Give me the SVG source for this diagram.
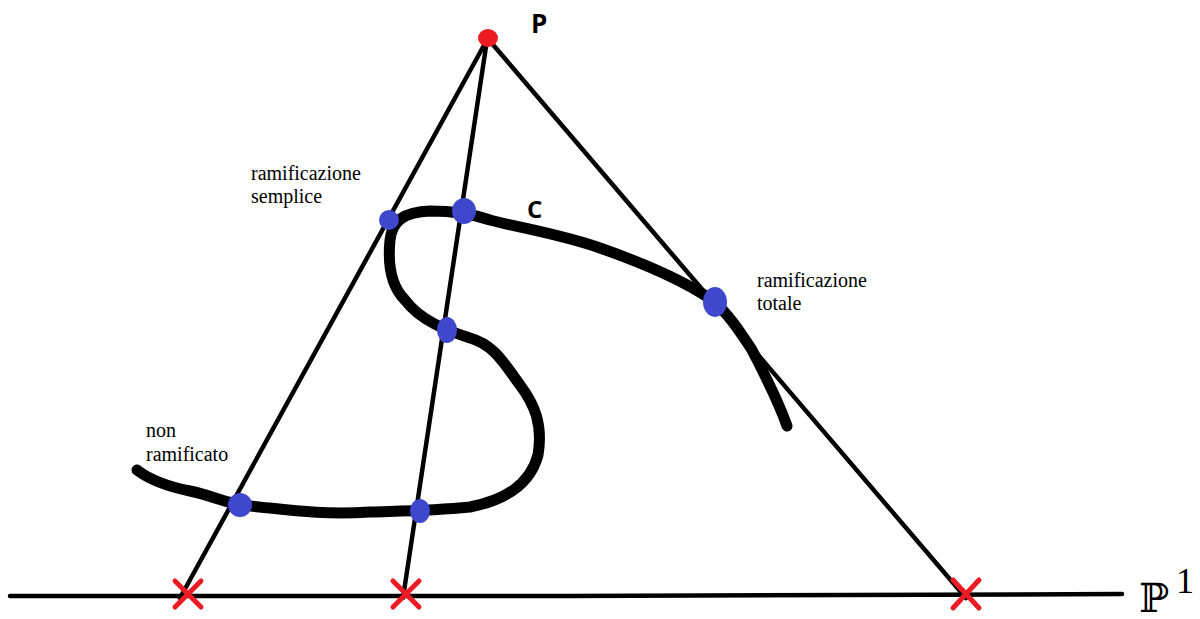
<svg xmlns="http://www.w3.org/2000/svg" width="1200" height="619" viewBox="0 0 1200 619">
<style>
.ln{stroke:#000;stroke-width:4.5;fill:none;stroke-linecap:round}
.cv{stroke:#000;stroke-width:11;fill:none;stroke-linecap:round;stroke-linejoin:round}
.dot{fill:#3f48cc}
.x{stroke:#ed1c24;stroke-width:5;stroke-linecap:round;fill:none}
.lbl{font-family:"Liberation Serif",serif;font-size:20px;fill:#000}
.bold{font-family:"Open Sans","Liberation Sans",sans-serif;font-weight:bold;fill:#000}
</style>
<rect width="1200" height="619" fill="#fff"/>
<g id="baseline">
<path class="ln" d="M10,596 L568,596 L1122,594" stroke-width="5"/>
</g>
<g id="connectors">
<path class="ln" d="M488,38 L180,598"/>
<path class="ln" d="M487,40 L403,598"/>
<path class="ln" d="M489,40 L966,598"/>
</g>
<g id="curve-C">
<path class="cv" d="M137,470 C150,480 165,486 190,491 C215,496 225,504 250,506 C290,510 320,515 370,512 C400,511 430,511 470,507 C505,500 530,485 538,455 C543,425 535,405 520,385 C505,365 495,345 470,338 C445,330 420,320 405,300 C390,285 388,260 390,240 C392,220 405,212 430,211 C450,211 470,213 490,220 C520,228 560,234 600,248 C640,262 680,278 712,300 C730,315 742,335 752,350 C765,375 778,400 787,426"/>
</g>
<g id="points">
<ellipse class="dot" cx="389" cy="220" rx="10" ry="10"/>
<ellipse class="dot" cx="464" cy="211" rx="12" ry="13"/>
<ellipse class="dot" cx="447" cy="330" rx="10" ry="13"/>
<ellipse class="dot" cx="240" cy="505" rx="12" ry="12"/>
<ellipse class="dot" cx="420" cy="511" rx="10" ry="12"/>
<ellipse class="dot" cx="715" cy="302" rx="12" ry="15"/>
</g>
<g id="P">
<ellipse cx="488" cy="38" rx="10" ry="9" fill="#ed1c24"/>
<text class="bold" x="531" y="33" font-size="26">P</text>
</g>
<g id="C-label">
<text class="bold" x="527" y="218" font-size="24">C</text>
</g>
<g id="crosses">
<path class="x" d="M175,581 L201,607 M201,581 L175,607"/>
<path class="x" d="M393,581 L419,607 M419,581 L393,607"/>
<path class="x" d="M953,580 L979,608 M979,580 L953,608"/>
</g>
<g id="labels">
<text class="lbl" x="251" y="180">ramificazione</text>
<text class="lbl" x="251" y="203">semplice</text>
<text class="lbl" x="757" y="287">ramificazione</text>
<text class="lbl" x="757" y="310">totale</text>
<text class="lbl" x="146" y="437">non</text>
<text class="lbl" x="146" y="461">ramificato</text>
</g>
<g id="P1">
<text x="1139" y="612" style="font-family:'DejaVu Serif',serif;font-size:40px">ℙ</text>
<text x="1176" y="593" style="font-family:'Liberation Serif',serif;font-size:36px">1</text>
</g>
</svg>
